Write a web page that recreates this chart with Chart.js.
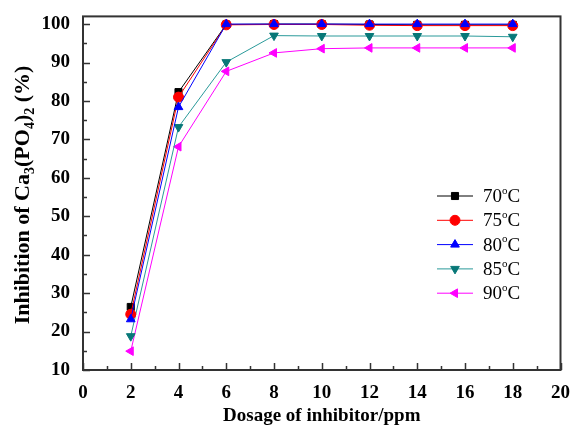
<!DOCTYPE html>
<html>
<head>
<meta charset="utf-8">
<script src="https://cdn.jsdelivr.net/npm/chart.js@4/dist/chart.umd.min.js"></script>
<style>
  html, body { margin: 0; padding: 0; background: #fff; }
  #wrap { width: 574px; height: 429px; }
</style>
</head>
<body>
<div id="wrap"><canvas id="chart" width="574" height="429"></canvas></div>
<script>
// data
const dosage = [2, 4, 6, 8, 10, 12, 14, 16, 18];
const seriesNames = ['70°C', '75°C', '80°C', '85°C', '90°C'];
const inh70 = [26.4, 82.3, 99.9, 100, 100, 99.9, 99.8, 99.8, 99.8];
const inh75 = [24.5, 81.0, 99.8, 99.9, 99.9, 99.7, 99.6, 99.6, 99.6];
const inh80 = [23.2, 78.4, 100, 100, 100, 100, 100, 100, 100];
const inh85 = [18.8, 73.2, 90.1, 97.0, 96.9, 96.9, 96.9, 96.9, 96.7];
const inh90 = [14.9, 68.1, 87.7, 92.5, 93.6, 93.8, 93.8, 93.8, 93.8];
const xTicks = [0, 2, 4, 6, 8, 10, 12, 14, 16, 18, 20];
const yTicks = [10, 20, 30, 40, 50, 60, 70, 80, 90, 100];

const serif = "'Liberation Serif', 'Times New Roman', serif";

const pts = arr => arr.map((v, i) => ({ x: dosage[i], y: v }));

function makeSet(label, values, color, lineColor, style, rot, order) {
  return {
    label: label,
    data: pts(values),
    borderColor: lineColor,
    backgroundColor: color,
    pointBackgroundColor: color,
    pointBorderColor: color,
    pointStyle: style,
    pointRotation: rot,
    pointRadius: 5,
    borderWidth: 1,
    order: order
  };
}

// frame, inward ticks, titles, legend
const decor = {
  id: 'decor',
  afterDraw(chart) {
    const ctx = chart.ctx;
    const a = chart.chartArea;
    const xs = chart.scales.x, ys = chart.scales.y;
    ctx.save();
    ctx.strokeStyle = '#333';
    ctx.lineWidth = 2;
    ctx.strokeRect(a.left, a.top, a.right - a.left, a.bottom - a.top);

    ctx.lineWidth = 1.5;
    ctx.beginPath();
    for (let v = 0; v <= 20; v += 1) {
      const px = Math.round(xs.getPixelForValue(v)) + 0.5;
      const len = v % 2 === 0 ? 7 : 4;
      ctx.moveTo(px, a.bottom);
      ctx.lineTo(px, a.bottom - len);
    }
    for (let v = 10; v <= 100; v += 5) {
      const py = Math.round(ys.getPixelForValue(v)) + 0.5;
      const len = v % 10 === 0 ? 7 : 4;
      ctx.moveTo(a.left, py);
      ctx.lineTo(a.left + len, py);
    }
    ctx.stroke();

    // x title
    ctx.fillStyle = '#000';
    ctx.font = 'bold 19px ' + serif;
    ctx.textAlign = 'center';
    ctx.textBaseline = 'alphabetic';
    ctx.fillText('Dosage of inhibitor/ppm', (a.left + a.right) / 2, 421);

    // y title with subscripts
    const parts = [
      ['Inhibition of Ca', 0], ['3', 1], ['(PO', 0], ['4', 1], [')', 0], ['2', 1], [' (%)', 0]
    ];
    const big = 'bold 22px ' + serif, small = 'bold 14px ' + serif;
    let total = 0;
    parts.forEach(p => { ctx.font = p[1] ? small : big; total += ctx.measureText(p[0]).width; });
    ctx.translate(29, 195);
    ctx.rotate(-Math.PI / 2);
    ctx.textAlign = 'left';
    let cx = -total / 2;
    parts.forEach(p => {
      ctx.font = p[1] ? small : big;
      ctx.fillText(p[0], cx, p[1] ? 5 : 0);
      cx += ctx.measureText(p[0]).width;
    });
    ctx.restore();

    // legend
    ctx.save();
    const lx0 = 437, lx1 = 473, tx = 483;
    chart.data.datasets.forEach((ds, i) => {
      const y = 196 + i * 24.3;
      ctx.strokeStyle = ds.borderColor;
      ctx.lineWidth = 1;
      ctx.beginPath();
      ctx.moveTo(lx0, y);
      ctx.lineTo(lx1, y);
      ctx.stroke();
      ctx.fillStyle = ds.pointBackgroundColor;
      ctx.strokeStyle = ds.pointBorderColor;
      Chart.helpers.drawPoint(ctx, {
        pointStyle: ds.pointStyle, rotation: ds.pointRotation, radius: 5, borderWidth: 1
      }, (lx0 + lx1) / 2, y);
      // label: number, raised small "o", C
      const lab = ds.label.split('°');
      ctx.fillStyle = '#000';
      ctx.textBaseline = 'middle';
      ctx.textAlign = 'left';
      ctx.font = '19px ' + serif;
      ctx.fillText(lab[0], tx, y + 1);
      let w = ctx.measureText(lab[0]).width;
      ctx.font = '11px ' + serif;
      ctx.fillText('o', tx + w, y - 5);
      w += ctx.measureText('o').width;
      ctx.font = '19px ' + serif;
      ctx.fillText(lab[1] || '', tx + w, y + 1);
    });
    ctx.restore();
  }
};

new Chart(document.getElementById('chart'), {
  type: 'line',
  data: {
    datasets: [
      makeSet(seriesNames[0], inh70, '#000000', '#000000', 'rect', 0, 3),
      makeSet(seriesNames[1], inh75, '#ff0000', '#ff0000', 'circle', 0, 2),
      makeSet(seriesNames[2], inh80, '#0000ff', '#0000ff', 'triangle', 0, 1),
      makeSet(seriesNames[3], inh85, '#087878', '#2a9a9a', 'triangle', 180, 4),
      makeSet(seriesNames[4], inh90, '#ff00ff', '#ff00ff', 'triangle', 270, 5)
    ]
  },
  options: {
    responsive: false,
    animation: false,
    layout: { padding: { top: 15, right: 11, left: 0, bottom: 0 } },
    plugins: { legend: { display: false }, tooltip: { enabled: false } },
    scales: {
      x: {
        type: 'linear',
        min: 0, max: 20,
        grid: { display: false },
        border: { display: false },
        afterBuildTicks: s => { s.ticks = xTicks.map(v => ({ value: v })); },
        afterFit: s => { s.height = 59; },
        ticks: { color: '#000', padding: 4, maxRotation: 0, font: { family: serif, size: 19, weight: 'bold' } }
      },
      y: {
        type: 'linear',
        min: 10, max: 102,
        grid: { display: false },
        border: { display: false },
        afterBuildTicks: s => { s.ticks = yTicks.map(v => ({ value: v })); },
        afterFit: s => { s.width = 83; },
        ticks: { color: '#000', padding: 5, font: { family: serif, size: 19, weight: 'bold' } }
      }
    }
  },
  plugins: [decor]
});
</script>
</body>
</html>
